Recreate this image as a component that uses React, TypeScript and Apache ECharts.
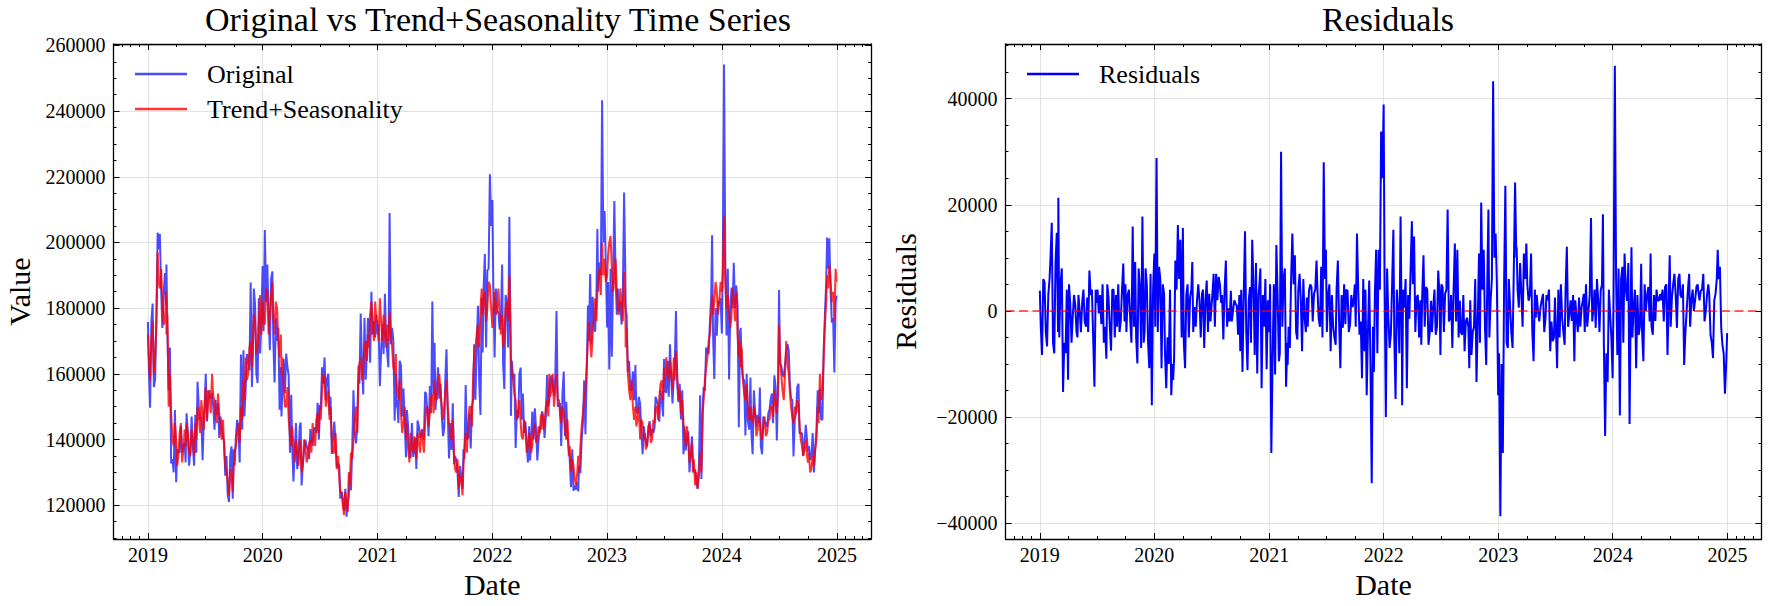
import React, { useEffect, useRef } from 'react'
import * as echarts from 'echarts'

// sampling: eight points per month from 2019 to 2024, plus the last day of 2024
const YEARS = [2019, 2020, 2021, 2022, 2023, 2024]
const SLOT_DAYS = [1, 4, 8, 12, 16, 20, 24, 28]
const LAST_DAY = '2024-12-31'

// one row per month
const trendSeasonality = [
  // 2019
  172000, 165000, 158000, 170000, 176000, 160000, 165000, 175000,
  197000, 188000, 186000, 192000, 182000, 175000, 176000, 185000,
  172000, 178000, 150000, 160000, 148000, 140000, 138000, 145000,
  140000, 132000, 135000, 142000, 145000, 133000, 137000, 143000,
  138000, 145000, 142000, 136000, 135000, 143000, 140000, 135000,
  145000, 140000, 150000, 147000, 142000, 152000, 148000, 143000,
  150000, 156000, 146000, 152000, 155000, 148000, 160000, 153000,
  152000, 147000, 145000, 154000, 148000, 143000, 140000, 146000,
  136000, 132000, 130000, 127000, 123000, 131000, 129000, 124000,
  132000, 136000, 138000, 142000, 145000, 139000, 150000, 146000,
  158000, 152000, 165000, 158000, 160000, 168000, 170000, 162000,
  170000, 178000, 176000, 166000, 168000, 176000, 184000, 172000,
  // 2020
  182000, 176000, 175000, 186000, 185000, 172000, 178000, 184000,
  188000, 178000, 172000, 182000, 180000, 170000, 165000, 172000,
  160000, 165000, 155000, 150000, 150000, 156000, 146000, 141000,
  138000, 144000, 138000, 133000, 140000, 136000, 132000, 140000,
  136000, 130000, 132000, 140000, 138000, 133000, 135000, 139000,
  140000, 136000, 145000, 141000, 138000, 146000, 148000, 142000,
  150000, 146000, 155000, 160000, 158000, 150000, 152000, 155000,
  146000, 150000, 141000, 136000, 136000, 142000, 131000, 135000,
  128000, 124000, 124000, 120000, 117000, 124000, 121000, 118000,
  130000, 126000, 136000, 134000, 140000, 146000, 150000, 142000,
  158000, 163000, 165000, 158000, 162000, 168000, 170000, 164000,
  172000, 168000, 178000, 182000, 175000, 170000, 182000, 176000,
  // 2021
  176000, 170000, 183000, 176000, 170000, 178000, 172000, 168000,
  175000, 170000, 179000, 172000, 168000, 162000, 160000, 166000,
  160000, 155000, 152000, 158000, 148000, 142000, 145000, 150000,
  140000, 145000, 137000, 133000, 142000, 139000, 136000, 141000,
  138000, 134000, 142000, 139000, 136000, 143000, 140000, 136000,
  145000, 150000, 150000, 144000, 148000, 153000, 154000, 148000,
  158000, 153000, 152000, 157000, 160000, 154000, 150000, 146000,
  150000, 154000, 158000, 150000, 145000, 142000, 140000, 146000,
  135000, 131000, 130000, 134000, 125000, 129000, 128000, 123000,
  132000, 137000, 142000, 136000, 145000, 150000, 150000, 144000,
  160000, 165000, 168000, 172000, 175000, 168000, 180000, 186000,
  178000, 183000, 185000, 176000, 180000, 188000, 187000, 180000,
  // 2022
  174000, 180000, 185000, 178000, 180000, 186000, 178000, 172000,
  178000, 168000, 172000, 180000, 182000, 176000, 190000, 172000,
  165000, 160000, 158000, 154000, 152000, 146000, 148000, 152000,
  145000, 141000, 140000, 146000, 143000, 136000, 138000, 142000,
  140000, 136000, 138000, 143000, 145000, 139000, 140000, 144000,
  142000, 147000, 148000, 143000, 145000, 150000, 152000, 147000,
  160000, 153000, 155000, 160000, 150000, 155000, 160000, 152000,
  152000, 148000, 145000, 150000, 148000, 143000, 140000, 146000,
  135000, 138000, 130000, 134000, 132000, 128000, 126000, 130000,
  135000, 130000, 138000, 144000, 148000, 152000, 155000, 162000,
  170000, 176000, 170000, 165000, 172000, 178000, 183000, 176000,
  185000, 190000, 192000, 184000, 200000, 190000, 195000, 188000,
  // 2023
  190000, 196000, 200000, 202000, 192000, 185000, 189000, 195000,
  185000, 180000, 178000, 186000, 182000, 176000, 191000, 180000,
  168000, 174000, 160000, 155000, 152000, 158000, 150000, 146000,
  150000, 144000, 146000, 150000, 140000, 146000, 145000, 140000,
  142000, 137000, 138000, 144000, 145000, 139000, 140000, 146000,
  145000, 150000, 150000, 146000, 153000, 157000, 158000, 152000,
  162000, 158000, 165000, 160000, 158000, 164000, 160000, 155000,
  165000, 158000, 167000, 160000, 152000, 155000, 148000, 152000,
  145000, 142000, 138000, 144000, 140000, 133000, 135000, 139000,
  130000, 134000, 126000, 130000, 125000, 129000, 136000, 130000,
  148000, 152000, 158000, 162000, 165000, 170000, 172000, 178000,
  184000, 178000, 182000, 188000, 185000, 178000, 182000, 188000,
  // 2024
  185000, 190000, 208000, 188000, 180000, 184000, 178000, 174000,
  178000, 186000, 183000, 176000, 185000, 172000, 165000, 170000,
  162000, 168000, 158000, 154000, 152000, 157000, 150000, 146000,
  150000, 146000, 145000, 150000, 148000, 141000, 143000, 147000,
  145000, 141000, 140000, 144000, 147000, 141000, 142000, 146000,
  146000, 150000, 150000, 147000, 155000, 151000, 148000, 155000,
  175000, 166000, 160000, 155000, 152000, 160000, 170000, 163000,
  160000, 155000, 150000, 147000, 145000, 150000, 148000, 152000,
  150000, 145000, 140000, 138000, 135000, 137000, 140000, 135000,
  133000, 136000, 130000, 131000, 135000, 132000, 137000, 140000,
  150000, 145000, 160000, 152000, 155000, 165000, 175000, 182000,
  190000, 186000, 193000, 188000, 182000, 185000, 176000, 192000,
  188000,
]

const original = [
  // 2019
  175800, 162000, 149700, 176000, 181400, 156000, 158300, 178000,
  203000, 198000, 202600, 186000, 174000, 184000, 190700, 181000,
  193300, 173000, 155000, 168000, 132700, 134000, 130000, 149000,
  127000, 137000, 136300, 136000, 144000, 136000, 138000, 139000,
  133000, 148000, 142000, 132000, 136500, 147000, 138000, 132000,
  147500, 136000, 157600, 150000, 146000, 147000, 133700, 147000,
  151500, 160000, 145500, 155000, 152500, 153000, 154000, 150000,
  143000, 152000, 147500, 151000, 140500, 147000, 144000, 141000,
  139000, 129000, 135000, 123000, 121000, 135000, 137900, 122000,
  137000, 132000, 141000, 146000, 143500, 133000, 165900, 143000,
  167200, 147000, 155100, 166000, 164500, 161000, 187800, 156000,
  166000, 186000, 181000, 160000, 157200, 183000, 166200, 176000,
  // 2020
  192800, 173000, 203800, 182000, 193300, 178000, 167200, 189000,
  191200, 170000, 157400, 177000, 170000, 174000, 149100, 162000,
  147000, 156000, 164500, 154000, 166200, 162000, 159400, 136000,
  153600, 138000, 127200, 136000, 145000, 131000, 134500, 144000,
  145200, 126000, 132700, 137000, 139900, 138000, 136900, 134000,
  143200, 140000, 138000, 143000, 143700, 142000, 151200, 140000,
  150600, 149000, 162000, 157000, 165000, 152000, 158400, 160000,
  147500, 153000, 135600, 140000, 145500, 139000, 131500, 133000,
  131800, 122000, 124000, 122000, 118300, 125000, 116500, 121000,
  122400, 130000, 124500, 137000, 155000, 142000, 138800, 144000,
  162500, 157000, 178400, 163000, 153700, 177000, 158200, 167000,
  177000, 176000, 163400, 185000, 172000, 176000, 171000, 178000,
  // 2021
  172000, 175000, 156200, 167000, 175000, 166000, 184400, 171000,
  165500, 162000, 209000, 169000, 174000, 170000, 145700, 160000,
  149800, 152000, 145000, 164000, 162600, 147000, 155500, 146000,
  134600, 149000, 144000, 135000, 134400, 145000, 134700, 137000,
  140500, 131000, 145800, 144000, 140500, 141000, 143200, 140000,
  154500, 154000, 148500, 141000, 156300, 148000, 182000, 154000,
  169500, 149000, 155000, 162000, 152400, 157000, 147000, 141000,
  143600, 158000, 167500, 148000, 134200, 145000, 136800, 151000,
  132500, 135000, 133800, 130000, 122500, 132000, 128700, 125000,
  137000, 134000, 156600, 140000, 140500, 148000, 137300, 150000,
  152400, 169000, 152100, 168000, 180700, 158000, 147500, 183000,
  166500, 186000, 196500, 168000, 191500, 192000, 220800, 205000,
  // 2022
  212900, 186000, 165000, 186000, 178700, 179000, 173500, 177000,
  193300, 163000, 155400, 184000, 182000, 168000, 207800, 166000,
  147200, 164000, 158600, 160000, 137400, 149000, 146500, 160000,
  161900, 146000, 154000, 142000, 145500, 139000, 133000, 144000,
  133600, 139000, 148500, 140000, 149500, 143000, 133600, 140000,
  143900, 143000, 148600, 147000, 140500, 147000, 159600, 150000,
  151700, 158000, 159500, 156000, 153200, 159000, 179100, 150000,
  150700, 151000, 138000, 154000, 160700, 141000, 151500, 141000,
  136900, 134000, 125500, 137000, 124400, 126000, 124700, 127000,
  124200, 132000, 129700, 140000, 145000, 158000, 141600, 160000,
  180800, 170000, 190400, 169000, 183500, 175000, 172800, 184000,
  204100, 185000, 193900, 190000, 243300, 200000, 209600, 193000,
  // 2023
  174100, 188000, 161300, 192000, 165200, 190000, 212600, 189000,
  178000, 186000, 179000, 182000, 175000, 184000, 215200, 190000,
  180000, 178000, 160600, 164000, 155200, 155000, 160800, 152000,
  162700, 149000, 147900, 153000, 150800, 142000, 135500, 144000,
  140700, 140000, 138000, 142000, 145600, 141000, 143200, 142000,
  143700, 153000, 152000, 150000, 145400, 155000, 152300, 147000,
  164500, 155000, 154200, 164000, 153000, 169000, 158700, 151000,
  158600, 162000, 179100, 157000, 151400, 157000, 146100, 155000,
  135500, 144000, 136700, 140000, 142500, 130000, 135600, 141000,
  133200, 130000, 131000, 127000, 125000, 132000, 153500, 128000,
  148600, 156000, 154800, 168000, 166900, 166000, 175800, 183000,
  202200, 172000, 158400, 180000, 171600, 182000, 181400, 183000,
  // 2024
  172300, 193000, 254200, 194000, 171700, 192000, 158300, 180000,
  186300, 180000, 193800, 180000, 186900, 181000, 143700, 173000,
  174000, 163000, 158600, 158000, 141200, 160000, 145500, 143000,
  158900, 142000, 135500, 155000, 148000, 144000, 147500, 145000,
  155800, 138000, 135500, 147000, 145100, 145000, 143900, 148000,
  149200, 152000, 154000, 145000, 159500, 156000, 139700, 158000,
  185500, 163000, 162500, 160000, 159000, 163000, 166800, 169000,
  167000, 158000, 152500, 152000, 134800, 146000, 148000, 156000,
  157000, 142000, 141900, 142000, 135000, 139000, 144500, 140000,
  136200, 138000, 133800, 135000, 142000, 130000, 137000, 143000,
  155000, 148000, 155500, 146000, 146100, 167000, 178200, 188000,
  201500, 192000, 201300, 185000, 175600, 177000, 160400, 182000,
  183800,
]

const residuals = [
  // 2019
  3800, -3000, -8300, 6000, 5400, -4000, -6700, 3000,
  6000, 10000, 16600, -6000, -8000, 9000, 14700, -4000,
  21300, -5000, 5000, 8000, -15300, -6000, -8000, 4000,
  -13000, 5000, 1300, -6000, -1000, 3000, 1000, -4000,
  -5000, 3000, 0, -4000, 1500, 4000, -2000, -3000,
  2500, -4000, 7600, 3000, 4000, -5000, -14300, 4000,
  1500, 4000, -500, 3000, -2500, 5000, -6000, -3000,
  -9000, 5000, 2500, -3000, -7500, 4000, 4000, -5000,
  3000, -3000, 5000, -4000, -2000, 4000, 8900, -2000,
  5000, -4000, 3000, 4000, -1500, -6000, 15900, -3000,
  9200, -5000, -9900, 8000, 4500, -7000, 17800, -6000,
  -4000, 8000, 5000, -6000, -10800, 7000, -17800, 4000,
  // 2020
  10800, -3000, 28800, -4000, 8300, 6000, -10800, 5000,
  3200, -8000, -14600, -5000, -10000, 4000, -15900, -10000,
  -13000, -9000, 9500, 4000, 16200, 6000, 13400, -5000,
  15600, -6000, -10800, 3000, 5000, -5000, 2500, 4000,
  9200, -4000, 700, -3000, 1900, 5000, 1900, -5000,
  3200, 4000, -7000, 2000, 5700, -4000, 3200, -2000,
  600, 3000, 7000, -3000, 7000, 2000, 6400, 5000,
  1500, 3000, -5400, 4000, 9500, -3000, 500, -2000,
  3800, -2000, 0, 2000, 1300, 1000, -4500, 3000,
  -7600, 4000, -11500, 3000, 15000, -4000, -11200, 2000,
  4500, -6000, 13400, 5000, -8300, 9000, -11800, 3000,
  5000, 8000, -14600, 3000, -3000, 6000, -11000, 2000,
  // 2021
  -4000, 5000, -26800, -9000, 5000, -12000, 12400, 3000,
  -9500, -8000, 30000, -3000, 6000, 8000, -14300, -6000,
  -10200, -3000, -7000, 6000, 14600, 5000, 10500, -4000,
  -5400, 4000, 7000, 2000, -7600, 6000, -1300, -4000,
  2500, -3000, 3800, 5000, 4500, -2000, 3200, 4000,
  9500, 4000, -1500, -3000, 8300, -5000, 28000, 6000,
  11500, -4000, 3000, 5000, -7600, 3000, -3000, -5000,
  -6400, 4000, 9500, -2000, -10800, 3000, -3200, 5000,
  -2500, 4000, 3800, -4000, -2500, 3000, 700, 2000,
  5000, -3000, 14600, 4000, -4500, -2000, -12700, 6000,
  -7600, 4000, -15900, -4000, 5700, -10000, -32500, -3000,
  -11500, 3000, 11500, -8000, 11500, 4000, 33800, 25000,
  // 2022
  38900, 6000, -20000, 8000, -1300, -7000, -4500, 5000,
  15300, -5000, -16600, 4000, 0, -8000, 17800, -6000,
  -17800, 4000, 600, 6000, -14600, 3000, -1500, 8000,
  16900, 5000, 14000, -4000, 2500, 3000, -5000, 2000,
  -6400, 3000, 10500, -3000, 4500, 4000, -6400, -4000,
  1900, -4000, 600, 4000, -4500, -3000, 7600, 3000,
  -8300, 5000, 4500, -4000, 3200, 4000, 19100, -2000,
  -1300, 3000, -7000, 4000, 12700, -2000, 11500, -5000,
  1900, -4000, -4500, 3000, -7600, -2000, -1300, -3000,
  -10800, 2000, -8300, -4000, -3000, 6000, -13400, -2000,
  10800, -6000, 20400, 4000, 11500, -3000, -10200, 8000,
  19100, -5000, 1900, 6000, 43300, 10000, 14600, 5000,
  // 2023
  -15900, -8000, -38700, -10000, -26800, 5000, 23600, -6000,
  -7000, 6000, 1000, -4000, -7000, 8000, 24200, 10000,
  12000, 4000, 600, 9000, 3200, -3000, 10800, 6000,
  12700, 5000, 1900, 3000, 10800, -4000, -9500, 4000,
  -1300, 3000, 0, -2000, 600, 2000, 3200, -4000,
  -1300, 3000, 2000, 4000, -7600, -2000, -5700, -5000,
  2500, -3000, -10800, 4000, -5000, 5000, -1300, -4000,
  -6400, 4000, 12100, -3000, -600, 2000, -1900, 3000,
  -9500, 2000, -1300, -4000, 2500, -3000, 600, 2000,
  3200, -4000, 5000, -3000, 0, 3000, 17500, -2000,
  600, 4000, -3200, 6000, 1900, -4000, 3800, 5000,
  18200, -6000, -23600, -8000, -13400, 4000, -600, -5000,
  // 2024
  -12700, 3000, 46200, 6000, -8300, 8000, -19700, 6000,
  8300, -6000, 10800, 4000, 1900, 9000, -21300, 3000,
  12000, -5000, 600, 4000, -10800, 3000, -4500, -3000,
  8900, -4000, -9500, 5000, 0, 3000, 4500, -2000,
  10800, -3000, -4500, 3000, -1900, 4000, 1900, 2000,
  3200, 2000, 4000, -2000, 4500, 5000, -8300, 3000,
  10500, -3000, 2500, 5000, 7000, 3000, -3200, 6000,
  7000, 3000, 2500, 5000, -10200, -4000, 0, 4000,
  7000, -3000, 1900, 4000, 0, 2000, 4500, 5000,
  3200, 2000, 3800, 4000, 7000, -2000, 0, 3000,
  5000, 3000, -4500, -6000, -8900, 2000, 3200, 6000,
  11500, 6000, 8300, -3000, -6400, -8000, -15600, -10000,
  -4200,
]

const FONT = '"Liberation Serif", "Times New Roman", serif'
const BLUE_A = 'rgba(0, 0, 255, 0.7)'
const RED_A = 'rgba(255, 0, 0, 0.8)'
const GRID_COLOR = '#e2e2e2'
const LINE_W = 2

// axis ranges (matplotlib adds a 5% margin around the data)
const X_MIN = Date.UTC(2018, 8, 13, 13)
const X_MAX = Date.UTC(2025, 3, 19, 13)
const YEAR_MS = 365.25 * 24 * 3600 * 1000

const buildDates = () => {
  const out: number[] = []
  YEARS.forEach((y) => {
    for (let m = 0; m < 12; m++) SLOT_DAYS.forEach((d) => out.push(Date.UTC(y, m, d)))
  })
  out.push(Date.parse(LAST_DAY))
  return out
}

const tickLine = { color: '#000', width: 1 }

const timeAxis = (gridIndex: number, main: boolean) => ({
  type: 'time',
  gridIndex,
  position: main ? 'bottom' : 'top',
  min: X_MIN,
  max: X_MAX,
  splitNumber: 6,
  minInterval: YEAR_MS,
  maxInterval: YEAR_MS,
  name: main ? 'Date' : '',
  nameLocation: 'middle',
  nameGap: 29,
  nameTextStyle: { fontFamily: FONT, fontSize: 30, color: '#000' },
  axisLine: { show: true, onZero: false, lineStyle: { color: '#000', width: 1.3 } },
  axisTick: { show: true, inside: true, length: 6, lineStyle: tickLine },
  minorTick: { show: true, splitNumber: 4, length: 3, lineStyle: tickLine },
  splitLine: { show: main, lineStyle: { color: GRID_COLOR, width: 1 } },
  axisLabel: {
    show: main,
    margin: 6,
    fontFamily: FONT,
    fontSize: 20,
    color: '#000',
    formatter: (v: number) => {
      const d = new Date(v)
      return d.getUTCMonth() === 0 && d.getUTCDate() === 1 ? String(d.getUTCFullYear()) : ''
    },
  },
})

const valueAxis = (
  gridIndex: number,
  main: boolean,
  min: number,
  max: number,
  splitNumber: number,
  name: string,
  nameGap: number
) => ({
  type: 'value',
  gridIndex,
  position: main ? 'left' : 'right',
  min,
  max,
  splitNumber,
  minInterval: 20000,
  maxInterval: 20000,
  name: main ? name : '',
  nameLocation: 'middle',
  nameRotate: 90,
  nameGap,
  nameTextStyle: { fontFamily: FONT, fontSize: 30, color: '#000' },
  axisLine: { show: true, onZero: false, lineStyle: { color: '#000', width: 1.3 } },
  axisTick: { show: true, inside: true, length: 6, lineStyle: tickLine },
  minorTick: { show: true, splitNumber: 4, length: 3, lineStyle: tickLine },
  splitLine: { show: main, lineStyle: { color: GRID_COLOR, width: 1 } },
  axisLabel: {
    show: main,
    margin: 8,
    fontFamily: FONT,
    fontSize: 20,
    color: '#000',
    formatter: (v: number) => (v % 20000 === 0 ? String(v).replace('-', '\u2212') : ''),
  },
})

const legendBase = {
  orient: 'vertical',
  top: 61,
  padding: 0,
  itemWidth: 52,
  itemHeight: 2.4,
  itemGap: 9,
  icon: 'rect',
  selectedMode: false,
  textStyle: { fontFamily: FONT, fontSize: 26, lineHeight: 26, color: '#000', padding: [0, 0, 0, 15] },
}

const titleText = (text: string, x: number) => ({
  type: 'text',
  x,
  y: 19,
  silent: true,
  style: {
    text,
    fill: '#000',
    fontFamily: FONT,
    fontSize: 34,
    align: 'center',
    verticalAlign: 'middle',
    textAlign: 'center',
    textVerticalAlign: 'middle',
  },
})

const App: React.FC = () => {
  const chartRef = useRef<HTMLDivElement>(null)

  useEffect(() => {
    if (!chartRef.current) return
    const chart = echarts.init(chartRef.current, undefined, { renderer: 'svg' })
    const dates = buildDates()
    const pairs = (vals: number[]) => dates.map((t, i) => [t, vals[i]])

    chart.setOption({
      animation: false,
      useUTC: true,
      backgroundColor: '#fff',
      textStyle: { fontFamily: FONT },
      graphic: [
        titleText('Original vs Trend+Seasonality Time Series', 498),
        titleText('Residuals', 1388),
      ],
      legend: [
        { ...legendBase, left: 135, data: ['Original', 'Trend+Seasonality'] },
        { ...legendBase, left: 1027, data: ['Residuals'] },
      ],
      grid: [
        { left: 113.5, top: 44, width: 757.5, height: 495 },
        { left: 1005.5, top: 44, width: 756, height: 495 },
      ],
      xAxis: [timeAxis(0, true), timeAxis(0, false), timeAxis(1, true), timeAxis(1, false)],
      yAxis: [
        valueAxis(0, true, 109700, 260450, 7, 'Value', 79),
        valueAxis(0, false, 109700, 260450, 7, 'Value', 79),
        valueAxis(1, true, -43000, 50300, 4, 'Residuals', 85),
        valueAxis(1, false, -43000, 50300, 4, 'Residuals', 85),
      ],
      series: [
        {
          name: 'Original',
          type: 'line',
          xAxisIndex: 0,
          yAxisIndex: 0,
          data: pairs(original),
          symbol: 'none',
          showSymbol: false,
          color: BLUE_A,
          lineStyle: { color: BLUE_A, width: LINE_W },
          z: 2,
        },
        {
          name: 'Trend+Seasonality',
          type: 'line',
          xAxisIndex: 0,
          yAxisIndex: 0,
          data: pairs(trendSeasonality),
          symbol: 'none',
          showSymbol: false,
          color: RED_A,
          lineStyle: { color: RED_A, width: LINE_W },
          z: 3,
        },
        {
          name: 'Residuals',
          type: 'line',
          xAxisIndex: 2,
          yAxisIndex: 2,
          data: pairs(residuals),
          symbol: 'none',
          showSymbol: false,
          color: '#0000ff',
          lineStyle: { color: '#0000ff', width: LINE_W },
          z: 2,
          markLine: {
            silent: true,
            symbol: ['none', 'none'],
            label: { show: false },
            lineStyle: { color: RED_A, type: [9, 4.5], width: 1.6 },
            data: [{ yAxis: 0 }],
          },
        },
      ],
    })

    return () => {
      chart.dispose()
    }
  }, [])

  return (
    <div
      ref={chartRef}
      style={{ position: 'fixed', left: 0, top: 0, width: 1768, height: 606, background: '#fff' }}
    />
  )
}

export default App
